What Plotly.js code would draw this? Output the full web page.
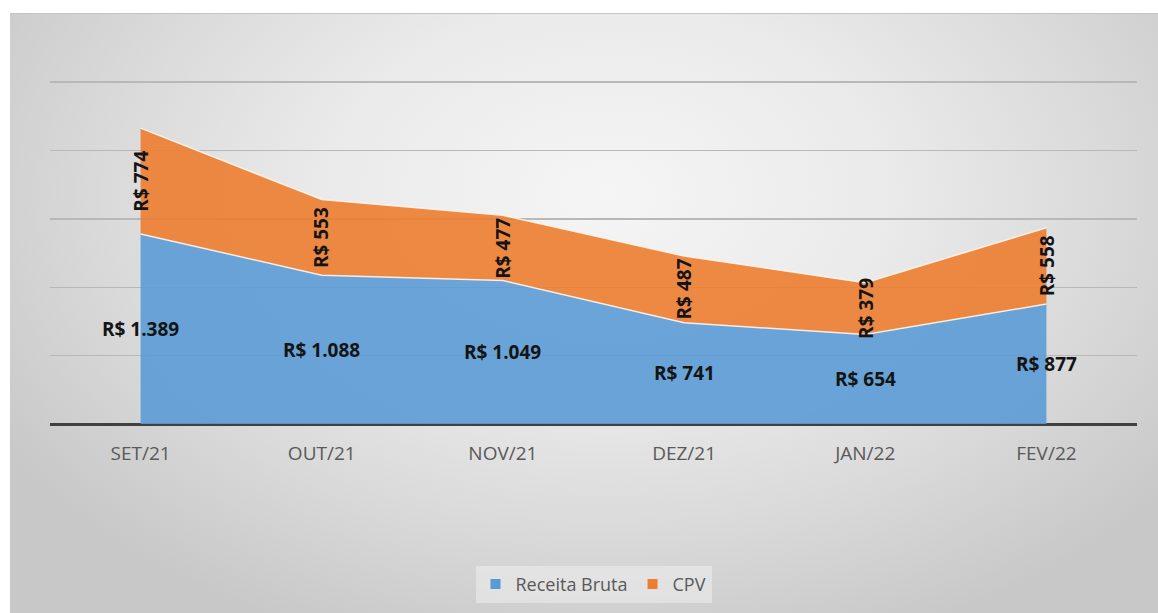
<!DOCTYPE html>
<html>
<head>
<meta charset="utf-8">
<script src="https://cdn.plot.ly/plotly-3.0.1.min.js"></script>
<style>
  html, body { margin: 0; padding: 0; background: #ffffff; width: 1158px; height: 613px; overflow: hidden; }
  #bg {
    position: absolute; left: 10px; top: 13px; width: 1148px; height: 600px;
    background: radial-gradient(ellipse 62% 80% at 52% 30%, #f5f5f5 0%, #eaeaea 40%, #dadada 70%, #c8c8c8 100%);
    border-top: 1px solid #c4c4c4;
  }
  #chart { position: absolute; left: 0; top: 0; width: 1158px; height: 613px; }
</style>
</head>
<body>
<div id="bg"></div>
<div id="chart"></div>
<script>
const categories = ["SET/21", "OUT/21", "NOV/21", "DEZ/21", "JAN/22", "FEV/22"];
const receitaBruta = [1389, 1088, 1049, 741, 654, 877];
const cpv = [774, 553, 477, 487, 379, 558];

function fmt(n) {
  if (n >= 1000) {
    return "R$ " + Math.floor(n / 1000) + "." + String(n % 1000).padStart(3, "0");
  }
  return "R$ " + n;
}

const traces = [
  {
    x: categories, y: receitaBruta, type: "scatter", mode: "lines",
    stackgroup: "one", name: "Receita Bruta", showlegend: false,
    line: { color: "rgba(255,245,235,0.9)", width: 1.5 },
    fillcolor: "rgba(91,155,213,0.9)", hoverinfo: "skip"
  },
  {
    x: categories, y: cpv, type: "scatter", mode: "lines",
    stackgroup: "one", name: "CPV", showlegend: false,
    line: { color: "rgba(255,245,235,0.9)", width: 1.5 },
    fillcolor: "rgba(237,125,49,0.9)", hoverinfo: "skip"
  },
  {
    x: [null], y: [null], type: "scatter", mode: "markers", name: "Receita Bruta",
    marker: { symbol: "square", size: 10, color: "#5B9BD5" }
  },
  {
    x: [null], y: [null], type: "scatter", mode: "markers", name: "CPV",
    marker: { symbol: "square", size: 10, color: "#ED7D31" }
  }
];

const labelFont = { family: "Open Sans, sans-serif", size: 19, color: "#141414", weight: "bold" };
const annotations = [];
categories.forEach((c, i) => {
  annotations.push({
    x: c, y: receitaBruta[i] / 2, xref: "x", yref: "y",
    text: fmt(receitaBruta[i]), showarrow: false, font: labelFont
  });
  annotations.push({
    x: c, y: receitaBruta[i] + cpv[i] / 2, xref: "x", yref: "y",
    text: fmt(cpv[i]), showarrow: false, textangle: -90, font: labelFont
  });
});

const layout = {
  width: 1158, height: 613,
  margin: { l: 50, r: 21, t: 80, b: 188 },
  paper_bgcolor: "rgba(0,0,0,0)",
  plot_bgcolor: "rgba(0,0,0,0)",
  font: { family: "Open Sans, sans-serif" },
  xaxis: {
    type: "category", range: [-0.5, 5.5], showgrid: false, zeroline: false,
    showline: false, ticks: "", ticklabelstandoff: 16,
    tickfont: { family: "Open Sans, sans-serif", size: 19, color: "#595959" },
    fixedrange: true
  },
  yaxis: {
    range: [0, 2515], tick0: 0, dtick: 500, showticklabels: false,
    showgrid: true, gridcolor: "#b8b8b8", gridwidth: 1.4,
    zeroline: true, zerolinecolor: "#404040", zerolinewidth: 3,
    fixedrange: true
  },
  showlegend: true,
  legend: {
    orientation: "h", traceorder: "normal",
    x: 0.5, xanchor: "center", y: -0.462, yanchor: "middle",
    bgcolor: "rgba(238,238,238,0.55)",
    font: { family: "Open Sans, sans-serif", size: 18, color: "#595959" },
    itemwidth: 30
  },
  annotations: annotations
};

Plotly.newPlot("chart", traces, layout, { displayModeBar: false, staticPlot: true });
</script>
</body>
</html>
